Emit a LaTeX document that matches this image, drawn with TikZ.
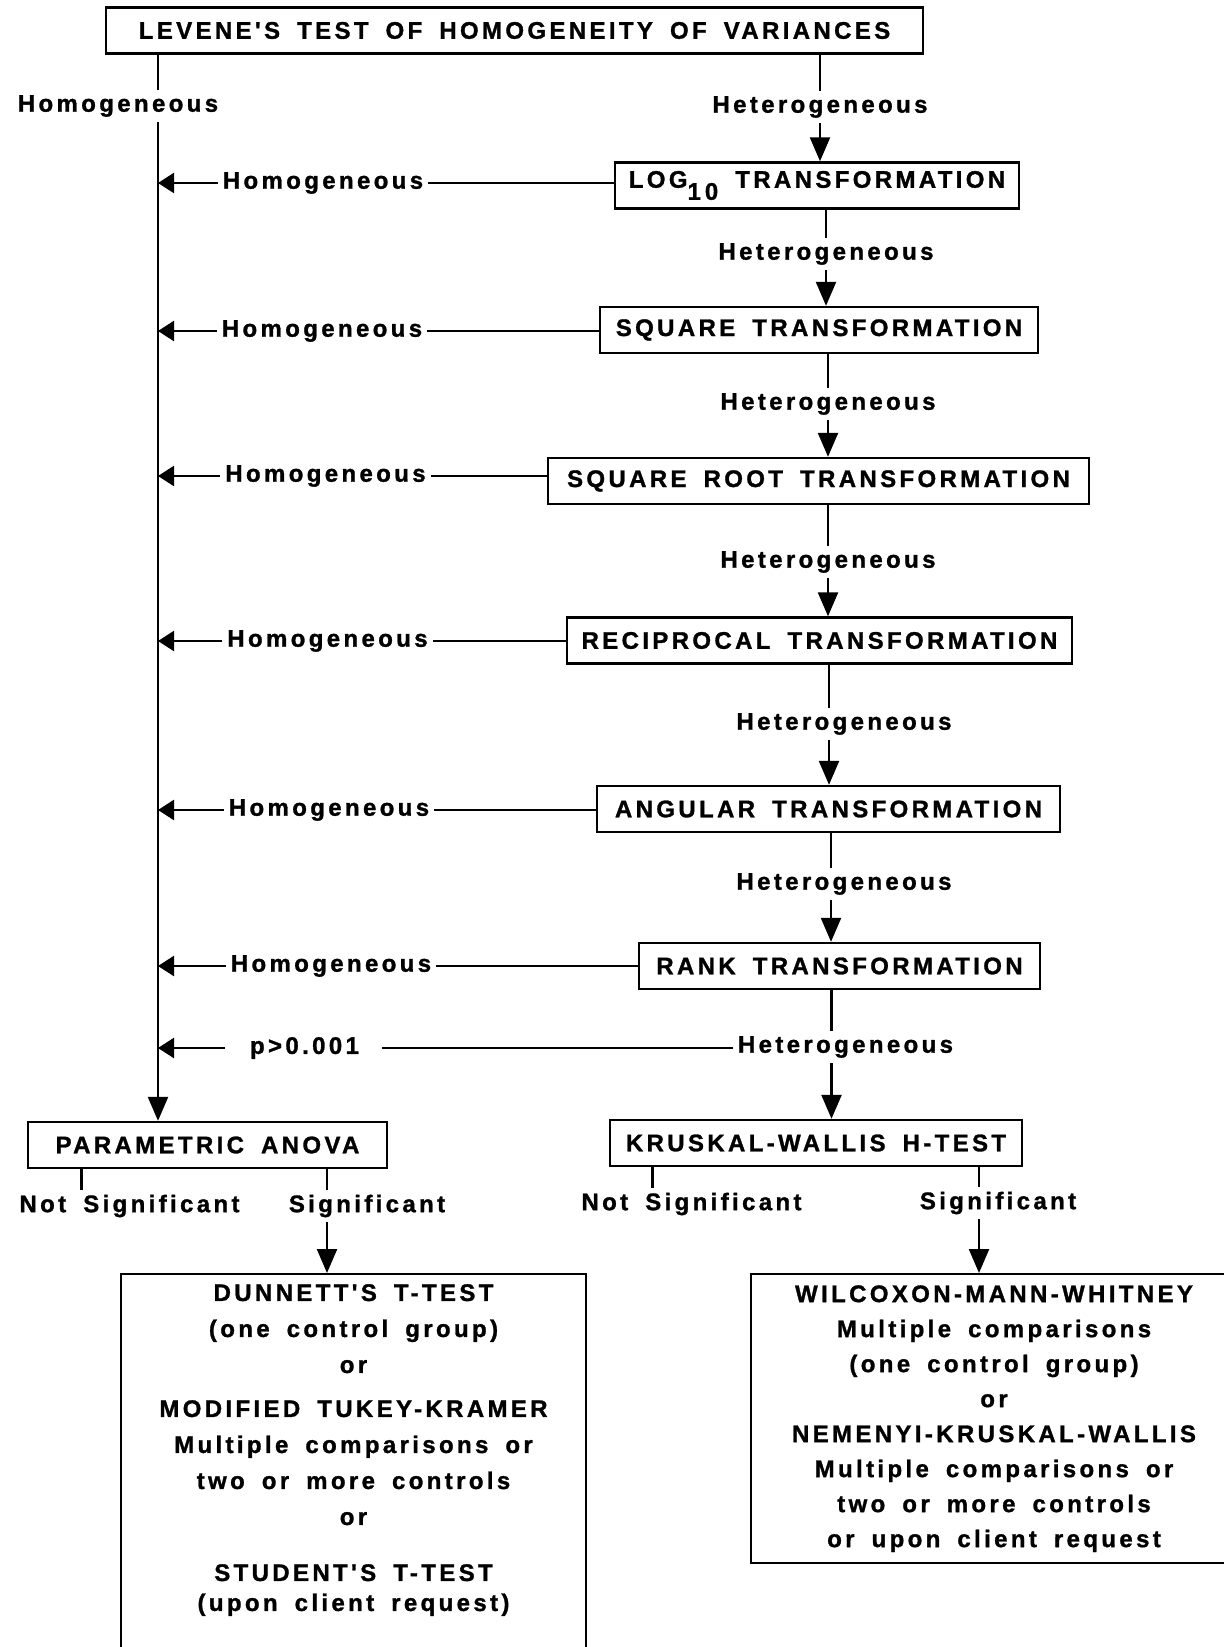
\documentclass[tikz,border=0pt]{standalone}
\usepackage{fontspec}
\setmainfont{Liberation Sans}
\newfontfamily\flowfont[LetterSpace=14,WordSpace=1.7,FakeBold=1.2,UprightFont={* Bold},BoldFont={* Bold}]{Liberation Sans}
\newcommand{\flowtext}{\flowfont\fontsize{12pt}{18pt}\selectfont}
\usetikzlibrary{arrows.meta,positioning,calc}

\tikzset{
	box/.style={draw,minimum height=23pt,inner sep=2pt,font=\flowtext},
	lab/.style={inner sep=2pt,font=\flowtext},
	bigbox/.style={draw,align=center,inner sep=5pt,anchor=north,font=\flowtext},
	down/.style={-{Triangle[length=12pt,width=10pt]}},
	back/.style={-{Triangle[length=8pt,width=10pt]}}
}

\begin{document}
\begin{tikzpicture}[x=0.5pt,y=-0.5pt,line width=1.2pt]
	\useasboundingbox (0,0) rectangle (1224,1647);
	\clip (0,0) rectangle (1224,1647);

	\begin{scope} % Test and transformations
		\node[box,minimum width=408.5pt] (levene) at (514.5,30.5) {LEVENE'S TEST OF HOMOGENEITY OF VARIANCES};
		\node[box,minimum width=202pt] (log) at (817,185.5) {LOG\raisebox{-6pt}{1\,0} TRANSFORMATION};
		\node[box,minimum width=219pt] (square) at (819,330) {SQUARE TRANSFORMATION};
		\node[box,minimum width=270.5pt] (sqroot) at (818.5,481) {SQUARE ROOT TRANSFORMATION};
		\node[box,minimum width=252.5pt] (recip) at (819.5,640.5) {RECIPROCAL TRANSFORMATION};
		\node[box,minimum width=231.5pt] (angular) at (828.5,809) {ANGULAR TRANSFORMATION};
		\node[box,minimum width=200.5pt] (rank) at (839.5,966) {RANK TRANSFORMATION};
		\node[box,minimum width=179.5pt] (param) at (207.5,1145) {PARAMETRIC ANOVA};
		\node[box,minimum width=206pt] (kruskal) at (816,1143) {KRUSKAL-WALLIS H-TEST};
	\end{scope}

	\begin{scope} % Labels
		\node[lab] (homtop) at (118,106) {Homogeneous};
		\node[lab] (het1) at (820,107) {Heterogeneous};
		\node[lab] (het2) at (826,254) {Heterogeneous};
		\node[lab] (het3) at (828,404) {Heterogeneous};
		\node[lab] (het4) at (828,562) {Heterogeneous};
		\node[lab] (het5) at (844,724) {Heterogeneous};
		\node[lab] (het6) at (844,884) {Heterogeneous};
		\node[lab] (het7) at (845.5,1047) {Heterogeneous};
		\node[lab] (hom1) at (323,183) {Homogeneous};
		\node[lab] (hom2) at (322,331) {Homogeneous};
		\node[lab] (hom3) at (325.5,476) {Homogeneous};
		\node[lab] (hom4) at (327.5,641) {Homogeneous};
		\node[lab] (hom5) at (329,810) {Homogeneous};
		\node[lab] (hom6) at (331,966) {Homogeneous};
		\node[lab] (pval) at (304.5,1048) {p>0.001};
		\node[lab] (nsig1) at (129.5,1206) {Not Significant};
		\node[lab] (sig1) at (367,1206) {Significant};
		\node[lab] (nsig2) at (691.5,1204) {Not Significant};
		\node[lab] (sig2) at (998,1203) {Significant};
	\end{scope}

	\begin{scope} % Post-hoc tests
		\node[bigbox,minimum width=232.5pt] (dunnett) at (353.5,1273) {DUNNETT'S T-TEST\\
			(one control group)\\
			or\\[4pt]
			MODIFIED TUKEY-KRAMER\\
			Multiple comparisons or\\
			two or more controls\\
			or\\[10pt]
			STUDENT'S T-TEST\\[-3pt]
			(upon client request)\\[40pt]
			\mbox{}};
		\node[bigbox,minimum width=243pt,minimum height=144.5pt,inner sep=0pt,font=\flowfont\fontsize{12pt}{17.5pt}\selectfont] (wilcox) at (994,1273) {WILCOXON-MANN-WHITNEY\\
			Multiple comparisons\\
			(one control group)\\
			or\\
			NEMENYI-KRUSKAL-WALLIS\\
			Multiple comparisons or\\
			two or more controls\\
			or upon client request};
	\end{scope}

	\coordinate (lspine) at (158,0);
	\coordinate (h5) at ([xshift=-7.5pt]het5.center);
	\coordinate (h6) at ([xshift=-6.5pt]het6.center);
	\coordinate (h7) at ([xshift=-7pt]het7.center);
	\coordinate (t1) at ([xshift=-24pt]nsig1.center);
	\coordinate (t2) at ([xshift=-20pt]sig1.center);
	\coordinate (t3) at ([xshift=-19.5pt]nsig2.center);
	\coordinate (t4) at ([xshift=-9.5pt]sig2.center);

	% Homogeneous side
	\draw (levene.south -| lspine) -- (homtop.north -| lspine);
	\draw[down] (homtop.south -| lspine) -- (param.north -| lspine);
	\foreach \h/\b in {hom1/log,hom2/square,hom3/sqroot,hom4/recip,hom5/angular,hom6/rank}{
		\draw (\h.east) -- (\h.east -| \b.west);
		\draw[back] (\h.west) -- (\h.west -| lspine);
	}
	\draw[shorten <=9pt] (pval.east) -- (pval.east -| het7.west);
	\draw[back,shorten <=10pt] (pval.west) -- (pval.west -| lspine);

	% Heterogeneous side
	\draw (levene.south -| het1) -- (het1.north);
	\draw[down] (het1.south) -- (het1.south |- log.north);
	\draw (log.south -| het2) -- (het2.north);
	\draw[down] (het2.south) -- (het2.south |- square.north);
	\draw (square.south -| het3) -- (het3.north);
	\draw[down] (het3.south) -- (het3.south |- sqroot.north);
	\draw (sqroot.south -| het4) -- (het4.north);
	\draw[down] (het4.south) -- (het4.south |- recip.north);
	\draw (recip.south -| h5) -- (het5.north -| h5);
	\draw[down] (het5.south -| h5) -- (angular.north -| h5);
	\draw (angular.south -| h6) -- (het6.north -| h6);
	\draw[down] (het6.south -| h6) -- (rank.north -| h6);
	\draw (rank.south -| h7) -- (het7.north -| h7);
	\draw[down] (het7.south -| h7) -- (kruskal.north -| h7);

	% Significance
	\draw (param.south -| t1) -- (nsig1.north -| t1);
	\draw (param.south -| t2) -- (sig1.north -| t2);
	\draw[down] (sig1.south -| t2) -- (dunnett.north -| t2);
	\draw (kruskal.south -| t3) -- (nsig2.north -| t3);
	\draw (kruskal.south -| t4) -- (sig2.north -| t4);
	\draw[down] (sig2.south -| t4) -- (wilcox.north -| t4);
\end{tikzpicture}
\end{document}
